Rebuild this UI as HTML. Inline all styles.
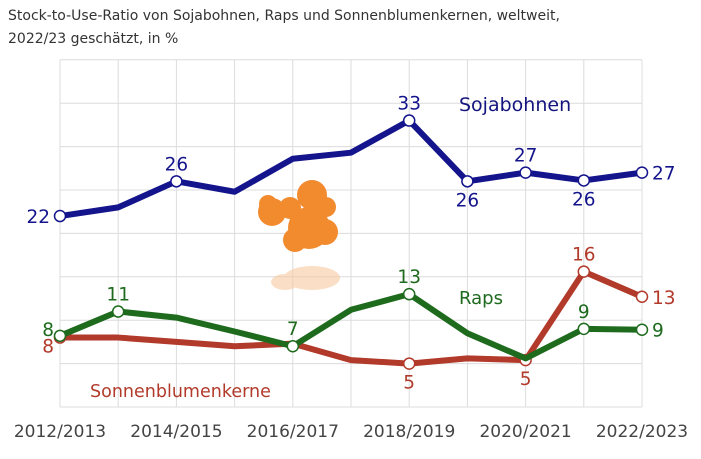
<!DOCTYPE html>
<html><head><meta charset="utf-8"><style>
body{margin:0;background:#fff;width:701px;height:454px;overflow:hidden;font-family:"Liberation Sans",sans-serif}
svg text{font-family:"DejaVu Sans","Liberation Sans",sans-serif}
</style></head><body>
<svg id="chart" width="701" height="454">
<text x="8" y="20" font-size="14" fill="#333">Stock-to-Use-Ratio von Sojabohnen, Raps und Sonnenblumenkernen, weltweit,</text>
<text x="8" y="43" font-size="14" fill="#333">2022/23 geschätzt, in %</text>
<g id="grid"></g>
<g>
<g fill="#f28a2e"><circle cx="272" cy="212" r="14"/><circle cx="290" cy="208" r="11"/><circle cx="312" cy="195" r="15"/><circle cx="326" cy="207" r="10"/><circle cx="309" cy="228" r="21"/><circle cx="295" cy="240" r="12"/><circle cx="325" cy="232" r="13"/><circle cx="268" cy="204" r="9"/></g>
<g fill="#f7c9a0" opacity="0.6"><ellipse cx="312" cy="278" rx="28" ry="12"/><ellipse cx="285" cy="282" rx="14" ry="8"/></g>
</g>
<g id="series"></g>
<text x="459" y="111" font-size="19" fill="#14147f">Sojabohnen</text>
<text x="459" y="304" font-size="18" fill="#1e6b1e">Raps</text>
<text x="90" y="397" font-size="17.5" fill="#b23a2a">Sonnenblumenkerne</text>
</svg>
<script>
const categories=["2012/2013","2013/2014","2014/2015","2015/2016","2016/2017","2017/2018","2018/2019","2019/2020","2020/2021","2021/2022","2022/2023"];
const xTickLabels=["2012/2013","2014/2015","2016/2017","2018/2019","2020/2021","2022/2023"];
const soy=[22,23,26,24.8,28.6,29.3,33,26,27,26.1,27];
const raps=[8.2,11,10.3,8.7,7,11.2,13,8.5,5.6,9,8.9];
const sun=[8,8,7.5,7,7.3,5.4,5,5.6,5.4,15.6,12.7];
const yTicks=[0,5,10,15,20,25,30,35,40];
const soyLabels=[[0,"22","l"],[2,"26","t"],[6,"33","t"],[7,"26","b"],[8,"27","t"],[9,"26","b"],[10,"27","r"]];
const rapsLabels=[[0,"8","lt"],[1,"11","t"],[4,"7","t"],[6,"13","t"],[9,"9","t"],[10,"9","r"]];
const sunLabels=[[0,"8","lb"],[6,"5","b"],[8,"5","b"],[9,"16","t"],[10,"13","r"]];
const NS="http://www.w3.org/2000/svg";
const x=i=>60+i*58.2;
const y=v=>407-v*8.68;
function mk(t,a,p){const e=document.createElementNS(NS,t);for(const k in a)e.setAttribute(k,a[k]);p.appendChild(e);return e;}
const grid=document.getElementById('grid');
yTicks.forEach(v=>{const l=mk('line',{x1:60,x2:642,y1:y(v),y2:y(v),stroke:'#dcdcdc','stroke-width':1},grid);

});
categories.forEach((c,i)=>{const l=mk('line',{x1:x(i),x2:x(i),y1:y(40),y2:y(0),stroke:'#dcdcdc','stroke-width':1},grid);

});
const svg=document.getElementById('chart');
xTickLabels.forEach(lbl=>{const i=categories.indexOf(lbl);const t=mk('text',{x:x(i),y:437,'font-size':17,fill:'#444','text-anchor':'middle'},svg);t.textContent=lbl;

});
const ser=document.getElementById('series');
function draw(vals,col,labels,name){
const pl=mk('polyline',{points:vals.map((v,i)=>x(i)+','+y(v)).join(' '),fill:'none',stroke:col,'stroke-width':6,'stroke-linejoin':'round'},ser);


labels.forEach(([i,txt,pos])=>{
const c=mk('circle',{cx:x(i),cy:y(vals[i]),r:5.5,fill:'#fff',stroke:col,'stroke-width':1.5},ser);


let tx=x(i),ty=y(vals[i]),an='middle';
if(pos=='t')ty-=11;else if(pos=='b')ty+=25;
else if(pos=='r'){tx+=10;ty+=7;an='start';}
else if(pos=='l'){tx-=10;ty+=7;an='end';}
else if(pos=='lt'){tx-=6;ty-=0;an='end';}
else if(pos=='lb'){tx-=6;ty+=15;an='end';}
const t=mk('text',{x:tx,y:ty,'font-size':18.5,fill:col,'text-anchor':an},ser);t.textContent=txt;


});}
draw(sun,'#b23a2a',sunLabels,'sonnenblumenkerne');
draw(raps,'#1e6b1e',rapsLabels,'raps');
draw(soy,'#14148c',soyLabels,'sojabohnen');
</script>
</body></html>
